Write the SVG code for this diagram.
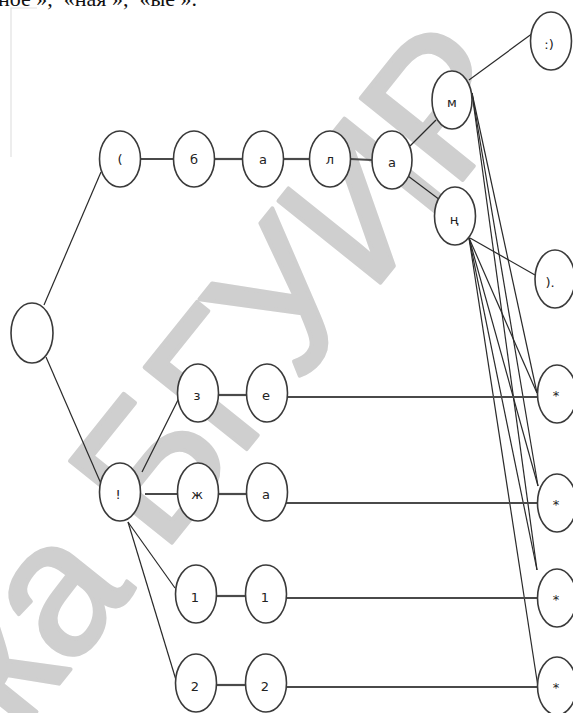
<svg xmlns="http://www.w3.org/2000/svg" width="573" height="713" viewBox="0 0 573 713">
<style>
.n ellipse{fill:#fff;stroke:#3a3a3a;stroke-width:1.6}
.n text{font-family:"DejaVu Sans","Liberation Sans",sans-serif;font-size:13px;fill:#222;text-anchor:middle;dominant-baseline:central}
.h{stroke:#4a4a4a;stroke-width:2.2;fill:none}
.d{stroke:#2a2a2a;stroke-width:1.2;fill:none}
.wm{font-family:"Liberation Sans",Arial,sans-serif;font-size:190px;letter-spacing:-5px;fill:#cfcfcf;stroke:#cfcfcf;stroke-width:4;stroke-linejoin:round}
.top{font-family:"Liberation Serif","Times New Roman",serif;font-size:22px;fill:#111}
</style>
<rect width="573" height="713" fill="#fff"/>
<text class="top" x="-2" y="6" xml:space="preserve">ное »,  «ная »,  «ые ».</text>
<path d="M11,157 V8 H37" stroke="#e2e2e2" stroke-width="1.2" fill="none"/>
<text class="wm" transform="translate(529,97) rotate(-51.3)" text-anchor="end">Библиотека БГУИР</text>
<g id="connectors">
<line class="d" x1="44" y1="305" x2="101" y2="172"/>
<line class="d" x1="46" y1="357" x2="102" y2="486"/>
<line class="h" x1="140" y1="159" x2="174" y2="159"/>
<line class="h" x1="214" y1="159" x2="243" y2="159"/>
<line class="h" x1="283" y1="159" x2="310" y2="159"/>
<line class="h" x1="350" y1="159" x2="372" y2="160"/>
<line class="d" x1="410" y1="146" x2="436" y2="120"/>
<line class="d" x1="408" y1="176" x2="440" y2="200"/>
<line class="d" x1="469" y1="80" x2="533" y2="33"/>
<line class="d" x1="470" y1="238" x2="535" y2="275"/>
<line class="d" x1="472" y1="93" x2="537" y2="393"/>
<line class="d" x1="472" y1="93" x2="538" y2="486"/>
<line class="d" x1="472" y1="93" x2="537" y2="570"/>
<line class="d" x1="469" y1="238" x2="537" y2="393"/>
<line class="d" x1="469" y1="238" x2="538" y2="486"/>
<line class="d" x1="469" y1="238" x2="537" y2="570"/>
<line class="d" x1="469" y1="238" x2="538" y2="687"/>
<line class="d" x1="142" y1="472" x2="179" y2="398"/>
<line class="h" x1="145" y1="494" x2="178" y2="494"/>
<line class="d" x1="128" y1="522" x2="175" y2="588"/>
<line class="d" x1="128" y1="522" x2="176" y2="680"/>
<line class="h" x1="218" y1="395" x2="247" y2="395"/>
<line class="h" x1="288" y1="397" x2="537" y2="397"/>
<line class="h" x1="218" y1="494" x2="247" y2="494"/>
<line class="h" x1="286" y1="503" x2="537" y2="503"/>
<line class="h" x1="217" y1="596" x2="245" y2="596"/>
<line class="h" x1="287" y1="598" x2="538" y2="598"/>
<line class="h" x1="217" y1="685" x2="245" y2="685"/>
<line class="h" x1="287" y1="687" x2="538" y2="687"/>
</g>
<g id="root" class="n"><ellipse cx="32" cy="333" rx="21" ry="30"/></g>
<g id="n_paren" class="n"><ellipse cx="120" cy="159" rx="20.5" ry="28"/><text x="120" y="159">(</text></g>
<g id="n_b" class="n"><ellipse cx="194" cy="159" rx="20.5" ry="28"/><text x="194" y="159">б</text></g>
<g id="n_a1" class="n"><ellipse cx="263" cy="159" rx="20.5" ry="28"/><text x="263" y="159">а</text></g>
<g id="n_l" class="n"><ellipse cx="330" cy="159" rx="20.5" ry="28"/><text x="330" y="159">л</text></g>
<g id="n_a2" class="n"><ellipse cx="392" cy="160" rx="20" ry="29"/><text x="392" y="162">а</text></g>
<g id="n_m" class="n"><ellipse cx="452" cy="100" rx="20" ry="29"/><text x="452" y="102">м</text></g>
<g id="n_smile" class="n"><ellipse cx="551" cy="41" rx="20.5" ry="29"/><text x="549" y="44">:)</text></g>
<g id="n_ng" class="n"><ellipse cx="455" cy="216" rx="20.5" ry="29"/><text x="454" y="219">ң</text></g>
<g id="n_dot" class="n"><ellipse cx="555" cy="279" rx="20" ry="29"/><text x="550" y="282">).</text></g>
<g id="n_s1" class="n"><ellipse cx="557" cy="394" rx="19.5" ry="29"/><text x="556" y="395">*</text></g>
<g id="n_s2" class="n"><ellipse cx="557" cy="503" rx="19.5" ry="29"/><text x="556" y="504">*</text></g>
<g id="n_s3" class="n"><ellipse cx="557" cy="598" rx="19.5" ry="29"/><text x="556" y="599">*</text></g>
<g id="n_s4" class="n"><ellipse cx="557" cy="686" rx="19.5" ry="29"/><text x="556" y="687">*</text></g>
<g id="n_ex" class="n"><ellipse cx="120" cy="492" rx="20.5" ry="29"/><text x="118" y="494">!</text></g>
<g id="n_z" class="n"><ellipse cx="198" cy="393" rx="20.5" ry="29"/><text x="197" y="395">з</text></g>
<g id="n_e" class="n"><ellipse cx="267" cy="393" rx="20.5" ry="29"/><text x="266" y="395">е</text></g>
<g id="n_zh" class="n"><ellipse cx="198" cy="492" rx="20.5" ry="29"/><text x="197" y="494">ж</text></g>
<g id="n_a3" class="n"><ellipse cx="267" cy="492" rx="20.5" ry="29"/><text x="266" y="494">а</text></g>
<g id="n_one1" class="n"><ellipse cx="196" cy="594" rx="20.5" ry="29"/><text x="195" y="597">1</text></g>
<g id="n_one2" class="n"><ellipse cx="266" cy="594" rx="20.5" ry="29"/><text x="265" y="597">1</text></g>
<g id="n_two1" class="n"><ellipse cx="196" cy="683" rx="20.5" ry="29"/><text x="195" y="686">2</text></g>
<g id="n_two2" class="n"><ellipse cx="266" cy="683" rx="20.5" ry="29"/><text x="265" y="686">2</text></g>
</svg>
